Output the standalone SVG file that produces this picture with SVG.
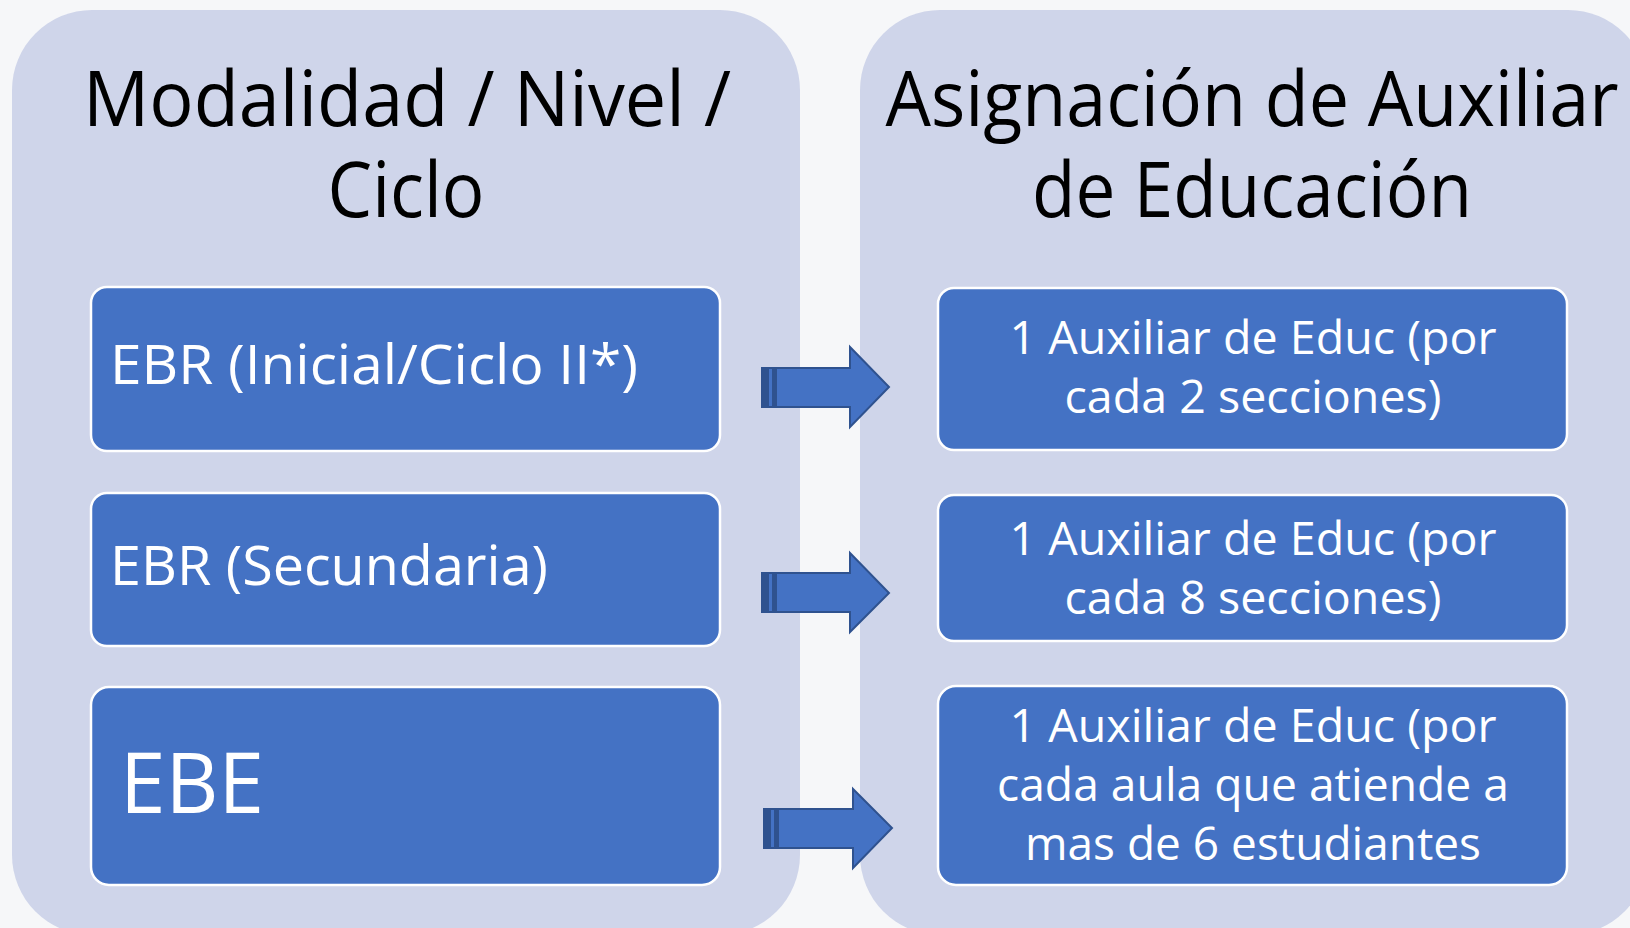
<svg xmlns="http://www.w3.org/2000/svg" width="1630" height="928" viewBox="0 0 1630 928">
<style>
.panel{fill:#CFD5EA}
.box{fill:#4472C4;stroke:#FFFFFF;stroke-width:2.5}
.title{font-family:"Open Sans","Noto Sans",sans-serif;font-size:76px;fill:#000000;text-anchor:middle}
.lt{font-family:"Open Sans","Noto Sans",sans-serif;font-size:55px;fill:#FFFFFF}
.rt{font-family:"Open Sans","Noto Sans",sans-serif;font-size:45px;fill:#FFFFFF;text-anchor:middle}
.arrow{fill:#4472C4;stroke:#2F528F;stroke-width:2;stroke-linejoin:miter}
.stripe{fill:#2F528F}
</style>
<rect width="1630" height="928" fill="#F6F7F9"/>
<g id="panel-left">
<rect class="panel" x="12" y="10" width="788" height="925" rx="80" ry="80"/>
<text class="title" x="407" y="126" textLength="648" lengthAdjust="spacingAndGlyphs">Modalidad / Nivel /</text>
<text class="title" x="406" y="217" textLength="157" lengthAdjust="spacingAndGlyphs">Ciclo</text>
</g>
<g id="panel-right">
<rect class="panel" x="860" y="10" width="788" height="925" rx="80" ry="80"/>
<text class="title" x="1252" y="126" textLength="733" lengthAdjust="spacingAndGlyphs">Asignación de Auxiliar</text>
<text class="title" x="1252" y="217" textLength="440" lengthAdjust="spacingAndGlyphs">de Educación</text>
</g>
<g id="node-ebr-inicial">
<rect class="box" x="91" y="287" width="629" height="164" rx="16" ry="16"/>
<text class="lt" x="110" y="384" textLength="528" lengthAdjust="spacingAndGlyphs">EBR (Inicial/Ciclo II*)</text>
</g>
<g id="node-ebr-secundaria">
<rect class="box" x="91" y="493" width="629" height="153" rx="16" ry="16"/>
<text class="lt" x="110" y="585" textLength="438" lengthAdjust="spacingAndGlyphs">EBR (Secundaria)</text>
</g>
<g id="node-ebe">
<rect class="box" x="91" y="687" width="629" height="198" rx="18" ry="18"/>
<text class="lt" x="120" y="813" style="font-size:84px" textLength="144" lengthAdjust="spacingAndGlyphs">EBE</text>
</g>
<g id="node-aux-1">
<rect class="box" x="938" y="288" width="629" height="162" rx="16" ry="16"/>
<text class="rt" x="1253" y="354" textLength="487" lengthAdjust="spacingAndGlyphs">1 Auxiliar de Educ (por</text>
<text class="rt" x="1253" y="413" textLength="377" lengthAdjust="spacingAndGlyphs">cada 2 secciones)</text>
</g>
<g id="node-aux-2">
<rect class="box" x="938" y="495" width="629" height="146" rx="16" ry="16"/>
<text class="rt" x="1253" y="555" textLength="487" lengthAdjust="spacingAndGlyphs">1 Auxiliar de Educ (por</text>
<text class="rt" x="1253" y="614" textLength="377" lengthAdjust="spacingAndGlyphs">cada 8 secciones)</text>
</g>
<g id="node-aux-3">
<rect class="box" x="938" y="686" width="629" height="199" rx="18" ry="18"/>
<text class="rt" x="1253" y="742" textLength="487" lengthAdjust="spacingAndGlyphs">1 Auxiliar de Educ (por</text>
<text class="rt" x="1253" y="801" textLength="512" lengthAdjust="spacingAndGlyphs">cada aula que atiende a</text>
<text class="rt" x="1253" y="860" textLength="456" lengthAdjust="spacingAndGlyphs">mas de 6 estudiantes</text>
</g>
<g id="connectors">
<g id="arrow-1">
<polygon class="arrow" points="762,368 850,368 850,347 889,387 850,427 850,407 762,407"/>
<rect class="stripe" x="763" y="369" width="6" height="37"/>
<rect class="stripe" x="772" y="369" width="5" height="37"/>
</g>
<g id="arrow-2">
<polygon class="arrow" points="762,573 850,573 850,553 889,593 850,632 850,612 762,612"/>
<rect class="stripe" x="763" y="574" width="6" height="37"/>
<rect class="stripe" x="772" y="574" width="5" height="37"/>
</g>
<g id="arrow-3">
<polygon class="arrow" points="764,809 853,809 853,789 892,828 853,868 853,848 764,848"/>
<rect class="stripe" x="765" y="810" width="6" height="37"/>
<rect class="stripe" x="774" y="810" width="5" height="37"/>
</g>
</g>
</svg>
